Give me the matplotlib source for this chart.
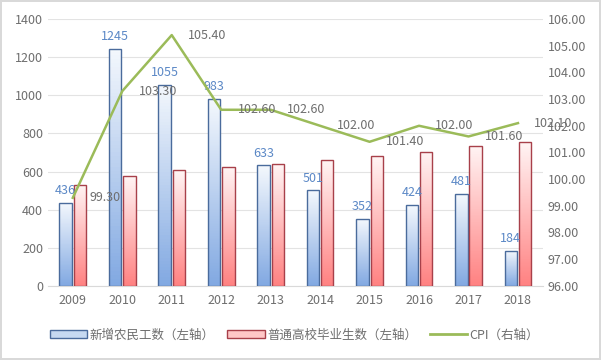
import numpy as np
import matplotlib.pyplot as plt
from matplotlib.patches import Patch
from matplotlib.lines import Line2D
from matplotlib.colors import LinearSegmentedColormap

plt.rcParams['font.family'] = ['Noto Sans CJK SC', 'DejaVu Sans']

years = ['2009', '2010', '2011', '2012', '2013', '2014', '2015', '2016', '2017', '2018']
new_migrants = [436, 1245, 1055, 983, 633, 501, 352, 424, 481, 184]
graduates = [531, 575, 608, 625, 638, 659, 680, 704, 736, 753]
cpi = [99.3, 103.3, 105.4, 102.6, 102.6, 102.0, 101.4, 102.0, 101.6, 102.1]

labels = ['新增农民工数（左轴）', '普通高校毕业生数（左轴）', 'CPI（右轴）']
gray = '#6e6e6e'

fig = plt.figure(figsize=(6.01, 3.6), dpi=100)
fig.patch.set_edgecolor('#d9d9d9')
fig.patch.set_linewidth(1.5)
ax = fig.add_axes([0.080, 0.206, 0.823, 0.741])
ax2 = ax.twinx()

x = np.arange(len(years))
w = 0.25
off = 0.145

blue_cm = LinearSegmentedColormap.from_list('b', ['#f4f8fd', '#82a9e2'])
red_cm = LinearSegmentedColormap.from_list('r', ['#fff4f4', '#ff8282'])
grad = np.linspace(0, 1, 64).reshape(-1, 1)


def grad_bars(xs, vals, cmap, edge):
    bars = ax.bar(xs, vals, w, facecolor='none', edgecolor=edge, linewidth=1.0, zorder=3)
    for b in bars:
        x0, y0 = b.get_x(), b.get_y()
        im = ax.imshow(grad, cmap=cmap, aspect='auto', origin='upper',
                       extent=[x0, x0 + b.get_width(), y0, y0 + b.get_height()], zorder=2)
        im.set_clip_path(b)
    return bars


grad_bars(x - off, new_migrants, blue_cm, '#4a6b9c')
grad_bars(x + off, graduates, red_cm, '#a8404a')

for xi, v in zip(x, new_migrants):
    ax.text(xi - off, v + 30, str(v), ha='center', va='bottom', color='#5b88c6', fontsize=9, zorder=5)

ax.set_xlim(-0.5, len(years) - 0.5)
ax.set_ylim(0, 1400)
ax.set_yticks(range(0, 1401, 200))
ax.set_xticks(x)
ax.set_xticklabels(years)
ax.grid(axis='y', color='#e3e3e3', linewidth=0.8, zorder=0)
ax.set_axisbelow(True)
ax.tick_params(length=0, colors=gray, labelsize=9)
ax.tick_params(axis='x', pad=6)
for s in ['top', 'left', 'right']:
    ax.spines[s].set_visible(False)
ax.spines['bottom'].set_color('#d9d9d9')
ax.set_aspect('auto')

ax2.plot(x, cpi, color='#9bbb59', linewidth=1.8, zorder=6)
for xi, v in zip(x, cpi):
    ax2.text(xi + 0.33, v, '%.2f' % v, ha='left', va='center', color=gray, fontsize=9, zorder=7)
ax2.set_ylim(96, 106)
ax2.set_yticks(np.arange(96, 106.1, 1))
ax2.set_yticklabels(['%.2f' % t for t in np.arange(96, 106.1, 1)])
ax2.tick_params(length=0, colors=gray, labelsize=9)
for s in ax2.spines.values():
    s.set_visible(False)

handles = [
    Patch(facecolor='#c6d9f1', edgecolor='#4a6b9c'),
    Patch(facecolor='#ffc7c7', edgecolor='#a8404a'),
    Line2D([0], [0], color='#9bbb59', linewidth=2),
]
fig.legend(handles, labels, loc='center', bbox_to_anchor=(0.49, 0.07), ncol=3, frameon=False,
           fontsize=9, labelcolor=gray, handlelength=3.0, handletextpad=0.2, columnspacing=1.0)

fig.savefig('out.png', dpi=100)
